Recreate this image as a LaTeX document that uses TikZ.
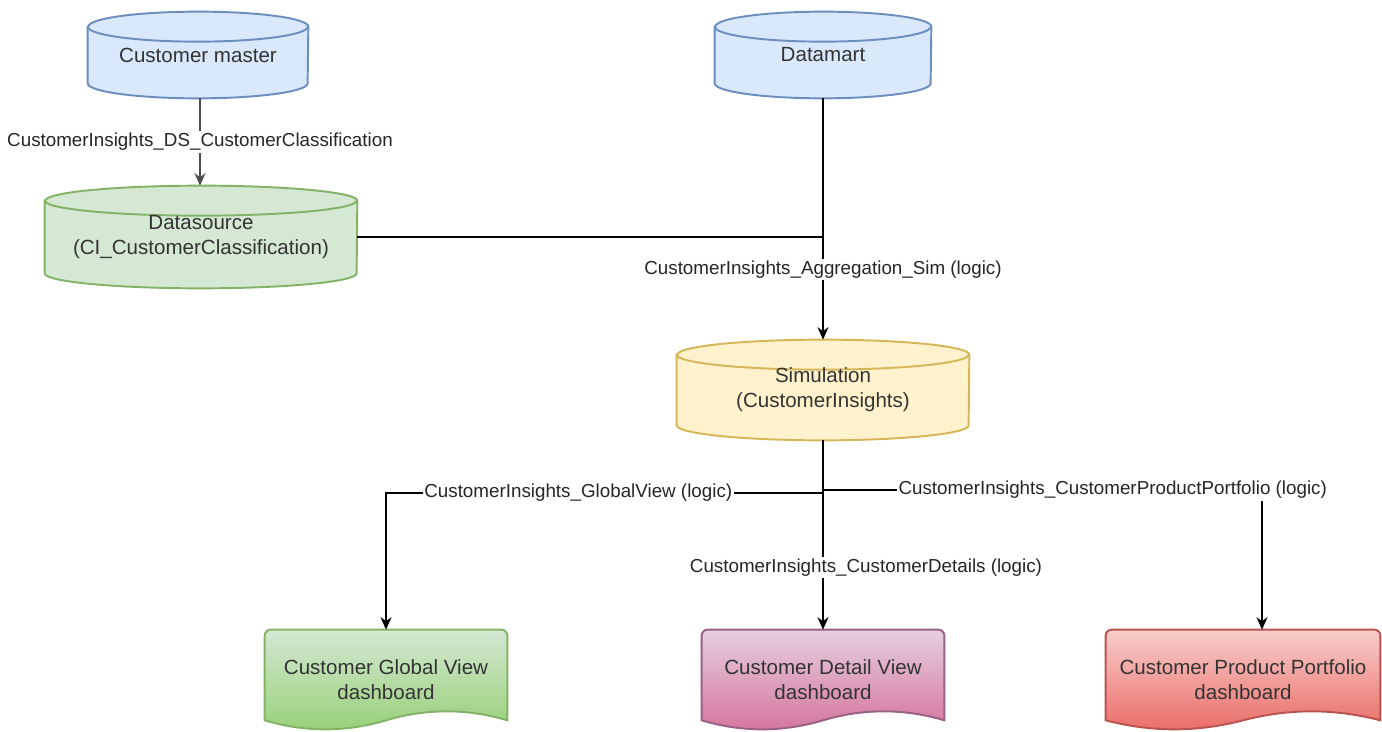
\documentclass[tikz,border=0pt]{standalone}
\usepackage{fontspec}
\setmainfont{Liberation Sans}
\usetikzlibrary{arrows.meta,backgrounds}

\definecolor{blueFill}{HTML}{DAE8FC}
\definecolor{blueLine}{HTML}{6C8EBF}
\definecolor{greenFill}{HTML}{D5E8D4}
\definecolor{greenDark}{HTML}{97D077}
\definecolor{greenLine}{HTML}{82B366}
\definecolor{yellowFill}{HTML}{FFF2CC}
\definecolor{yellowLine}{HTML}{D6B656}
\definecolor{pinkFill}{HTML}{E6D0DE}
\definecolor{pinkDark}{HTML}{D5739D}
\definecolor{pinkLine}{HTML}{996185}
\definecolor{redFill}{HTML}{F8CECC}
\definecolor{redDark}{HTML}{EA6B66}
\definecolor{redLine}{HTML}{B85450}
\definecolor{textGray}{HTML}{333333}

\begin{document}
\begin{tikzpicture}[
        x=0.02cm, y=-0.02cm,
        >={Stealth[length=0.25cm, width=0.22cm]},
        store/.style={inner sep=0pt, align=center, text=textGray, font=\fontsize{11.7}{14.2}\selectfont},
        board/.style={minimum height=2cm, inner sep=0pt, align=center, text=textGray,
            font=\fontsize{11.7}{14.2}\selectfont},
        sheet/.style={line width=1.1pt},
        flow/.style={->, line width=0.8pt},
        tag/.style={fill=white, inner sep=1pt, text=black!85, font=\fontsize{10.7}{12.8}\selectfont}
    ]
    \useasboundingbox (0,0) rectangle (1382,732);

    % Sumber data
    \node[store, minimum width=4.4cm, minimum height=1.72cm] (cm) at (198,55) {Customer master};
    \node[store, minimum width=4.32cm, minimum height=1.72cm] (dm) at (823,55) {Datamart};
    \node[store, minimum width=6.24cm, minimum height=2.04cm] (ds) at (201,237) {Datasource\\(CI\_CustomerClassification)};
    \node[store, minimum width=5.84cm, minimum height=2cm] (sim) at (823,390) {Simulation\\(CustomerInsights)};

    % Dashboard
    \node[board, minimum width=4.84cm] (g) at (386,680) {Customer Global View\\dashboard};
    \node[board, minimum width=4.84cm] (d) at (823,680) {Customer Detail View\\dashboard};
    \node[board, minimum width=5.48cm] (p) at (1243,680) {Customer Product Portfolio\\dashboard};

    \begin{scope}[on background layer]
        % Badan silinder dan elips atas
        \foreach \n/\r/\f/\l in {cm/2.2/blueFill/blueLine, dm/2.16/blueFill/blueLine,
                ds/3.12/greenFill/greenLine, sim/2.92/yellowFill/yellowLine} {
            \path[sheet, fill=\f, draw=\l] ([yshift=-0.3cm]\n.north west) -- ([yshift=0.3cm]\n.south west)
                arc[start angle=180, end angle=360, x radius=\r cm, y radius=0.3cm]
                -- ([yshift=-0.3cm]\n.north east)
                arc[start angle=0, end angle=180, x radius=\r cm, y radius=0.3cm] -- cycle;
            \draw[sheet, draw=\l] ([yshift=-0.3cm]\n.north west)
                arc[start angle=180, end angle=360, x radius=\r cm, y radius=0.3cm];
        }

        % Lembar dashboard dengan tepi bawah bergelombang
        \path[sheet, draw=greenLine, top color=greenFill, bottom color=greenDark]
            ([yshift=0.2cm]g.south west) [rounded corners=0.12cm] -- (g.north west) -- (g.north east) [sharp corners] -- ([yshift=0.2cm]g.south east)
            .. controls +(-40,-12) and +(40,-12) .. ([yshift=0.2cm]g.south)
            .. controls +(-40,12) and +(40,12) .. ([yshift=0.2cm]g.south west) -- cycle;
        \path[sheet, draw=pinkLine, top color=pinkFill, bottom color=pinkDark]
            ([yshift=0.2cm]d.south west) [rounded corners=0.12cm] -- (d.north west) -- (d.north east) [sharp corners] -- ([yshift=0.2cm]d.south east)
            .. controls +(-40,-12) and +(40,-12) .. ([yshift=0.2cm]d.south)
            .. controls +(-40,12) and +(40,12) .. ([yshift=0.2cm]d.south west) -- cycle;
        \path[sheet, draw=redLine, top color=redFill, bottom color=redDark]
            ([yshift=0.2cm]p.south west) [rounded corners=0.12cm] -- (p.north west) -- (p.north east) [sharp corners] -- ([yshift=0.2cm]p.south east)
            .. controls +(-46,-12) and +(46,-12) .. ([yshift=0.2cm]p.south)
            .. controls +(-46,12) and +(46,12) .. ([yshift=0.2cm]p.south west) -- cycle;
    \end{scope}

    % Titik belok
    \coordinate (gturn) at (386,493);
    \coordinate (pturn) at (1262,490);

    % Aliran data
    \draw[flow, draw=black!70] (cm.south -| 200,0) -- node[tag] {CustomerInsights\_DS\_CustomerClassification} (ds.north -| 200,0);
    \draw[line width=0.8pt] (ds.east) -- (ds.east -| dm.south);
    \draw[flow] (dm.south) -- node[tag, pos=0.71] {CustomerInsights\_Aggregation\_Sim (logic)} (sim.north);
    \draw[flow] (sim.south) |- node[tag, pos=0.78] {CustomerInsights\_GlobalView (logic)} (gturn) -- (g.north);
    \draw[flow] (sim.south) |- node[tag, pos=0.83] {CustomerInsights\_CustomerProductPortfolio (logic)} (pturn) -- (pturn |- p.north);
    \draw[flow] (sim.south) -- node[tag, pos=0.674, xshift=0.86cm] {CustomerInsights\_CustomerDetails (logic)} (d.north);

\end{tikzpicture}
\end{document}
